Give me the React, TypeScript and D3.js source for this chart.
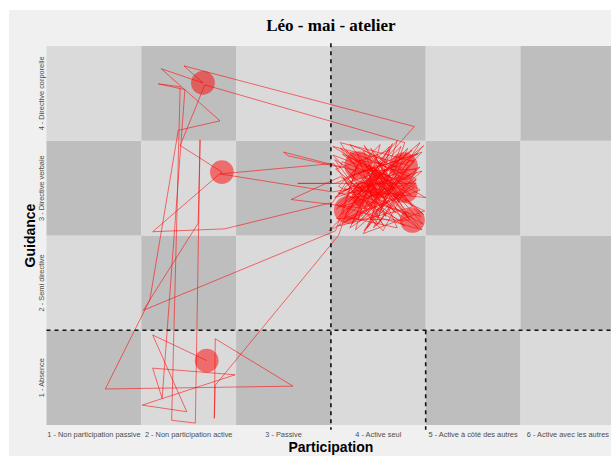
import React from "react";
import * as d3 from "d3";

const WIDTH = 611;
const HEIGHT = 456;

const title = "Léo - mai - atelier";
const xTitle = "Participation";
const yTitle = "Guidance";

const participation = [
  "1 - Non participation passive",
  "2 - Non participation active",
  "3 - Passive",
  "4 - Active seul",
  "5 - Active à côté des autres",
  "6 - Active avec les autres",
];
const guidance = [
  "1 - Absence",
  "2 - Semi directive",
  "3 - Directive verbale",
  "4 - Directive corporelle",
];

// trajectory (participation, guidance)
const pathX = [
  2.19, 1.62, 1.98, 1.51, 2.49, 1.62, 1.72, 1.96, 1.68, 1.91, 1.82, 2.07, 2.12, 2.1, 1.52, 3.55,
  3.78, 3.62, 4.31, 3.95, 4.4, 3.7, 4.05, 3.58, 4.45, 3.85, 4.22, 3.66, 4.38, 3.92, 4.12, 3.55, 4.28, 3.8, 4.48, 3.72, 4.02, 4.35, 3.6, 4.18, 3.88,
  3.54, 4.46, 3.76, 4.02, 3.58, 4.26, 3.9, 4.44, 3.64, 4.1, 3.52, 4.32, 3.84, 4.49, 3.7, 3.98, 4.2, 3.56, 4.36, 3.8,
  4.38, 1.95, 2.15, 1.71, 2.33, 1.89, 1.59, 1.12, 3.1, 2.28, 2.27, 2.28, 3.58,
  3.68, 4.25, 3.75, 4.42, 3.9, 3.52, 4.3, 4.0, 3.63, 4.46, 3.82, 4.15, 3.58, 4.36, 3.95, 4.2, 3.7, 4.05, 4.4, 3.78,
  3.0, 3.05, 3.6,
  3.62, 4.28, 3.85, 4.44, 3.68, 4.1, 3.56, 4.33, 3.92, 4.22, 3.74, 4.5, 3.86, 4.08, 3.6, 4.38, 3.8, 4.16,
  3.58, 4.42, 3.72, 4.06, 3.54, 4.3, 3.94, 4.48, 3.66, 4.14, 3.88, 4.24, 3.6, 4.4, 3.78, 4.0,
  4.28, 2.17, 1.91, 2.35, 1.62, 2.38, 3.52,
  3.82, 4.3, 3.64, 4.12, 3.7, 4.4, 3.15, 3.55, 4.25, 3.9, 3.08, 3.6, 4.47, 3.96, 3.66, 4.2, 3.84, 4.34, 3.72, 3.48,
  3.76, 4.38, 3.62, 4.18, 3.9, 4.46, 3.56, 4.08, 3.7, 4.32, 3.86, 4.44, 3.64, 4.22, 3.98, 3.53,
  2.33, 3.52, 4.02, 4.27,
];
const pathY = [
  1.18, 1.45, 0.64, 0.71, 1.03, 1.1, 0.78, 4.04, 4.1, 4.07, 0.55, 0.52, 3.51, 2.63, 1.71, 2.55,
  3.25, 2.72, 3.42, 2.58, 3.1, 3.38, 3.15, 2.95, 2.7, 3.45, 2.85, 3.05, 3.3, 2.66, 3.4, 3.2, 2.6, 2.88, 3.45, 2.62, 3.28, 2.92, 3.42, 2.74, 3.12,
  2.9, 3.18, 2.56, 3.46, 3.02, 2.64, 3.34, 2.98, 2.68, 3.08, 3.44, 3.24, 2.52, 2.76, 3.12, 2.84, 3.5, 2.78, 3.4, 3.0,
  3.65, 4.29, 4.11, 4.26, 3.71, 3.61, 1.82, 0.88, 0.91, 1.41, 0.57, 0.92, 2.5,
  2.78, 3.22, 3.3, 2.58, 2.95, 3.35, 3.05, 2.62, 3.1, 3.38, 2.7, 3.47, 2.6, 2.8, 3.35, 2.95, 2.9, 2.55, 3.2, 3.18,
  3.38, 3.34, 3.22,
  3.28, 3.0, 2.55, 3.48, 2.85, 3.2, 2.68, 2.66, 3.42, 3.12, 2.98, 2.9, 3.26, 2.7, 3.48, 3.28, 2.65, 3.0,
  2.94, 3.36, 3.14, 2.6, 3.3, 2.86, 3.22, 2.72, 3.4, 2.92, 2.58, 3.44, 2.8, 3.08, 3.36, 2.7,
  3.48, 4.09, 3.45, 3.17, 2.54, 2.57, 2.85,
  3.3, 2.72, 3.0, 3.44, 2.58, 3.05, 3.05, 3.05, 3.35, 2.78, 2.88, 3.12, 2.62, 3.2, 2.7, 2.58, 3.4, 3.14, 2.8, 2.55,
  2.7, 3.0, 3.36, 2.9, 3.24, 2.56, 2.82, 3.3, 3.46, 2.68, 3.06, 3.22, 2.64, 2.96, 2.6, 3.26,
  3.15, 2.96, 3.05, 2.98,
];

// long stays, drawn as bubbles
const bubbleX = [2.15, 2.35, 2.19, 3.79, 4.27, 3.68, 4.36, 4.02, 4.28, 3.86];
const bubbleY = [4.11, 3.17, 1.18, 3.24, 3.23, 2.77, 2.66, 3.03, 2.98, 2.93];
const bubbleSize = [5, 5, 5, 7, 7, 7, 5.5, 6, 6, 6];

export default function App() {
  const x = d3.scaleLinear().domain([0.5, 6.5]).range([46.5, 615.3]);
  const y = d3.scaleLinear().domain([0.5, 4.5]).range([425, 46]);
  const r = d3.scaleSqrt().domain([0, 8]).range([0, 15]);

  const cells: { c: number; g: number }[] = [];
  participation.forEach((_, i) =>
    guidance.forEach((_, j) => cells.push({ c: i + 1, g: j + 1 })),
  );

  const line = d3
    .line<number>()
    .x((i) => x(pathX[i]))
    .y((i) => y(pathY[i]));

  const dash = { stroke: "#111", strokeWidth: 1.6, strokeDasharray: "4,4" };

  return (
    <svg
      width={WIDTH}
      height={HEIGHT}
      style={{ position: "absolute", left: 0, top: 0, background: "#fff" }}
    >
      <rect x={9} y={10} width={WIDTH - 9} height={HEIGHT - 10} fill="#f0f0f0" />
      <text
        x={x(3.5)}
        y={31}
        textAnchor="middle"
        fontFamily="Liberation Serif, serif"
        fontWeight="bold"
        fontSize={17}
      >
        {title}
      </text>

      {cells.map((d) => (
        <rect
          key={`${d.c}-${d.g}`}
          x={x(d.c - 0.5)}
          y={y(d.g + 0.5)}
          width={x(d.c + 0.5) - x(d.c - 0.5)}
          height={y(d.g - 0.5) - y(d.g + 0.5)}
          fill={(d.c + d.g) % 2 === 0 ? "#bebebe" : "#dadada"}
        />
      ))}

      {bubbleX.map((bx, i) => (
        <circle
          key={i}
          cx={x(bx)}
          cy={y(bubbleY[i])}
          r={r(bubbleSize[i])}
          fill="#ff0000"
          fillOpacity={0.5}
        />
      ))}

      <path
        d={line(d3.range(pathX.length))!}
        fill="none"
        stroke="#ff0000"
        strokeOpacity={0.65}
        strokeWidth={0.85}
      />

      <line x1={x(3.5)} x2={x(3.5)} y1={y(4.53)} y2={y(0.45)} {...dash} />
      <line x1={x(4.5)} x2={x(4.5)} y1={y(1.5)} y2={y(0.45)} {...dash} />
      <line x1={x(0.5)} x2={x(6.5)} y1={y(1.5)} y2={y(1.5)} {...dash} />

      <g fontFamily="Liberation Sans, Arial, sans-serif" fontSize={7.4} fill="#4d4d4d">
        {participation.map((p, i) => (
          <text key={p} x={x(i + 1)} y={437} textAnchor="middle">
            {p}
          </text>
        ))}
        {guidance.map((g, j) => (
          <text
            key={g}
            transform={`translate(44,${y(j + 1)}) rotate(-90)`}
            textAnchor="middle"
          >
            {g}
          </text>
        ))}
      </g>

      <g fontFamily="Liberation Sans, Arial, sans-serif" fontWeight="bold" fontSize={14}>
        <text x={x(3.5)} y={452} textAnchor="middle">
          {xTitle}
        </text>
        <text transform={`translate(35,${y(2.5)}) rotate(-90)`} textAnchor="middle">
          {yTitle}
        </text>
      </g>
    </svg>
  );
}
